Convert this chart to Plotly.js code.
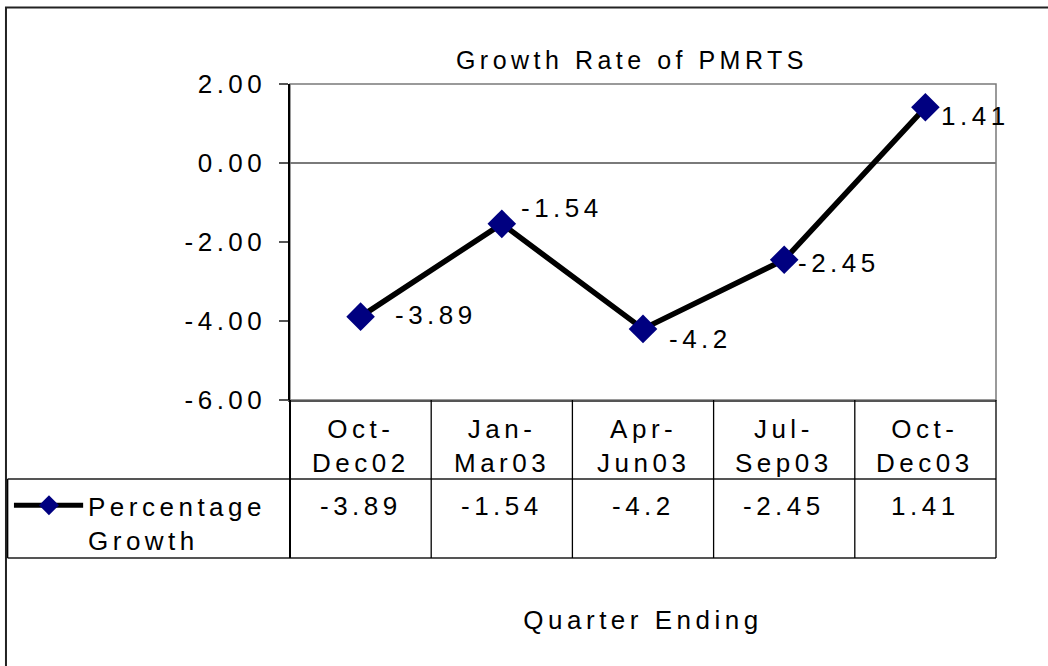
<!DOCTYPE html>
<html>
<head>
<meta charset="utf-8">
<script src="https://cdn.plot.ly/plotly-3.0.1.min.js"></script>
<style>
  html, body { margin: 0; padding: 0; background: #fff; }
  svg text { letter-spacing: 4.5px; }
</style>
</head>
<body>
<div id="chart" style="width:1048px;height:666px;"></div>
<script>
// ---- data ----
const categories = ['Oct-Dec02', 'Jan-Mar03', 'Apr-Jun03', 'Jul-Sep03', 'Oct-Dec03'];
const categoryLabels = ['Oct-<br>Dec02', 'Jan-<br>Mar03', 'Apr-<br>Jun03', 'Jul-<br>Sep03', 'Oct-<br>Dec03'];
const growth = [-3.89, -1.54, -4.2, -2.45, 1.41];
const seriesName = 'Percentage<br>Growth';
const yTickVals = [2, 0, -2, -4, -6];
const yTickText = ['2.00', '0.00', '-2.00', '-4.00', '-6.00'];
const chartTitle = 'Growth Rate of PMRTS';
const xTitle = 'Quarter Ending';

// ---- styles ----
const FONT = '"Liberation Sans", Arial, sans-serif';
const FS = 26;
const labelDx = [32, 17, 24, 12, 14];
const labelDy = [2, 16, -10, -3, -9];
const n = categories.length;
const rowTop = 0, rowMid = -0.25, rowBot = -0.5;
const legendLeft = -2 / n;

const shapes = [];
// plot-area frame (top/right gray)
shapes.push({type:'rect', xref:'paper', yref:'paper', x0:0, x1:1, y0:0, y1:1,
  line:{color:'#7a7a7a', width:1.5}, layer:'below'});
// outer chart frame (left/top visible)
shapes.push({type:'rect', xref:'paper', yref:'paper', x0:-0.4023, x1:1.3, y0:1.242, y1:-1.2,
  line:{color:'#222', width:2}, layer:'below'});
// data table: horizontal rules
shapes.push({type:'line', xref:'paper', yref:'paper', x0:legendLeft, x1:1, y0:rowMid, y1:rowMid,
  line:{color:'#555', width:2}});
shapes.push({type:'line', xref:'paper', yref:'paper', x0:legendLeft, x1:1, y0:rowBot, y1:rowBot,
  line:{color:'#555', width:2}});
// vertical rules between categories
for (let c = 0; c <= n; c++) {
  shapes.push({type:'line', xref:'paper', yref:'paper', x0:c / n, x1:c / n, y0:rowTop, y1:rowBot,
    line:{color:'#000', width:c === 0 ? 2 : 1.3}});
}
shapes.push({type:'line', xref:'paper', yref:'paper', x0:legendLeft, x1:legendLeft, y0:rowMid, y1:rowBot,
  line:{color:'#000', width:1.5}});
// legend key inside table
const keyY = -0.333, keyX0 = -0.391, keyX1 = -0.293, keyXc = -0.3414;
shapes.push({type:'line', xref:'paper', yref:'paper', x0:keyX0, x1:keyX1, y0:keyY, y1:keyY,
  line:{color:'#000', width:5}});
const dw = 10 / 706, dh = 10 / 316;
shapes.push({type:'path', xref:'paper', yref:'paper',
  path:`M${keyXc - dw},${keyY} L${keyXc},${keyY + dh} L${keyXc + dw},${keyY} L${keyXc},${keyY - dh} Z`,
  fillcolor:'#000080', line:{width:0}});

const annotations = [];
const tfont = {family: FONT, size: FS, color: '#000'};
categories.forEach((cat, i) => {
  // data labels
  annotations.push({xref:'x', yref:'y', x:cat, y:growth[i], text:String(growth[i]),
    showarrow:false, xanchor:'left', yanchor:'middle', xshift:labelDx[i], yshift:labelDy[i], font:tfont});
  // table: category row
  annotations.push({xref:'x', yref:'paper', x:cat, y:-0.1456, text:categoryLabels[i],
    showarrow:false, xanchor:'center', yanchor:'middle', font:tfont});
  // table: value row
  annotations.push({xref:'x', yref:'paper', x:cat, y:-0.335, text:String(growth[i]),
    showarrow:false, xanchor:'center', yanchor:'middle', font:tfont});
});
annotations.push({xref:'paper', yref:'paper', x:-0.289, y:-0.392, text:seriesName, align:'left',
  showarrow:false, xanchor:'left', yanchor:'middle', font:tfont});

const trace = {
  type:'scatter', mode:'lines+markers', x:categories, y:growth, name:seriesName.replace('<br>', ' '),
  line:{color:'#000', width:5.5},
  marker:{symbol:'diamond', size:22, color:'#000080', line:{width:0}},
  cliponaxis:false, hoverinfo:'x+y'
};

const layout = {
  width:1048, height:666,
  margin:{l:290, r:52, t:84, b:266, autoexpand:false},
  paper_bgcolor:'#fff', plot_bgcolor:'#fff',
  font:{family:FONT, size:FS, color:'#000'},
  showlegend:false,
  title:{text:chartTitle, x:0.603, xref:'container', xanchor:'center',
    y:0.91, yref:'container', yanchor:'middle', font:{family:FONT, size:25, color:'#000'}},
  xaxis:{type:'category', categoryarray:categories, range:[-0.5, n - 0.5],
    showticklabels:false, ticks:'', showgrid:false, zeroline:false,
    showline:true, linecolor:'#555', linewidth:2,
    title:{text:xTitle, standoff:210, font:{family:FONT, size:FS, color:'#000'}}},
  yaxis:{range:[-6, 2], tickvals:yTickVals, ticktext:yTickText,
    ticks:'outside', ticklen:9, tickwidth:1.5, tickcolor:'#555', ticklabelstandoff:7,
    showgrid:false, zeroline:true, zerolinecolor:'#7a7a7a', zerolinewidth:1.5,
    showline:true, linecolor:'#000', linewidth:2.5, tickfont:tfont},
  shapes, annotations
};

Plotly.newPlot('chart', [trace], layout, {staticPlot:true});
</script>
</body>
</html>
